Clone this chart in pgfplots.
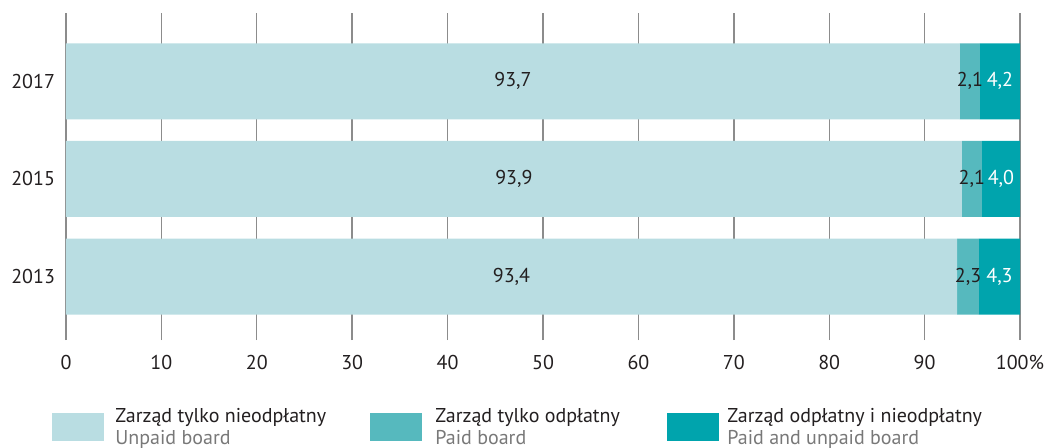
\documentclass[border=0pt]{standalone}
\usepackage{pgfplots}
\pgfplotsset{compat=1.18}
\usepackage{pgfplotstable}
\usepackage{fontspec}
\setmainfont{PT Sans}
\definecolor{cA}{RGB}{185,221,226}
\definecolor{cB}{RGB}{86,185,190}
\definecolor{cC}{RGB}{0,164,173}
\definecolor{txt}{RGB}{35,31,32}
\definecolor{gridc}{RGB}{140,140,140}
\definecolor{sub}{RGB}{120,120,120}
\pgfplotstableread{
y a b c
2 93.7 2.1 4.2
1 93.9 2.1 4.0
0 93.4 2.3 4.3
}\data
\pgfplotsset{
  /pgf/number format/assume math mode=true,
  base/.style={
    at={(33pt,-6.5pt)}, anchor=north west,
    scale only axis, width=477pt, height=163.5pt,
    xmin=0, xmax=100, ymin=-0.65, ymax=2.70,
  }
}
\begin{document}
\begin{tikzpicture}[font=\fontsize{10pt}{12pt}\selectfont, text=txt]
\useasboundingbox (0,0) rectangle (528pt,-223.5pt);
\begin{axis}[base,
  xbar stacked, bar width=38pt,
  axis line style={draw=none},
  xtick={0,10,...,100},
  xticklabels={0,10,20,30,40,50,60,70,80,90,100\%},
  ytick={0,1,2}, yticklabels={2013,2015,2017},
  major tick length=0pt,
  xmajorgrids, grid style={gridc, line width=0.7pt},
  xticklabel style={yshift=-4pt, text=txt},
  yticklabel style={xshift=-2pt, text=txt},
  tick label style={font=\fontsize{10pt}{12pt}\selectfont},
]
\addplot[fill=cA, draw=none] table[x=a,y=y]{\data};
\addplot[fill=cB, draw=none] table[x=b,y=y]{\data};
\addplot[fill=cC, draw=none] table[x=c,y=y]{\data};
\end{axis}
\begin{axis}[base, hide axis,
  nodes near coords={\pgfmathprintnumber[fixed,fixed zerofill,precision=1,use comma,assume math mode=true]{\pgfplotspointmeta}},
  point meta=explicit,
  every node near coord/.append style={anchor=center, inner sep=0pt, font=\fontsize{10pt}{12pt}\selectfont},
]
\addplot[draw=none, mark=none, every node near coord/.append style={text=txt}] table[x expr=\thisrow{a}/2, y=y, meta=a]{\data};
\addplot[draw=none, mark=none, every node near coord/.append style={text=txt}] table[x expr=\thisrow{a}+\thisrow{b}/2, y=y, meta=b]{\data};
\addplot[draw=none, mark=none, every node near coord/.append style={text=white}] table[x expr=\thisrow{a}+\thisrow{b}+\thisrow{c}/2, y=y, meta=c]{\data};
\end{axis}
% legend
\fill[cA] (26pt,-206.5pt) rectangle (52pt,-220.5pt);
\fill[cB] (185pt,-206.5pt) rectangle (211pt,-220.5pt);
\fill[cC] (333.5pt,-206.5pt) rectangle (359.5pt,-220.5pt);
\node[anchor=base west, inner sep=0pt] at (57.5pt,-211pt) {Zarząd tylko nieodpłatny};
\node[anchor=base west, inner sep=0pt, text=sub] at (57.5pt,-222pt) {Unpaid board};
\node[anchor=base west, inner sep=0pt] at (217.5pt,-211pt) {Zarząd tylko odpłatny};
\node[anchor=base west, inner sep=0pt, text=sub] at (217.5pt,-222pt) {Paid board};
\node[anchor=base west, inner sep=0pt] at (363.5pt,-211pt) {Zarząd odpłatny i nieodpłatny};
\node[anchor=base west, inner sep=0pt, text=sub] at (363.5pt,-222pt) {Paid and unpaid board};
\end{tikzpicture}
\end{document}
